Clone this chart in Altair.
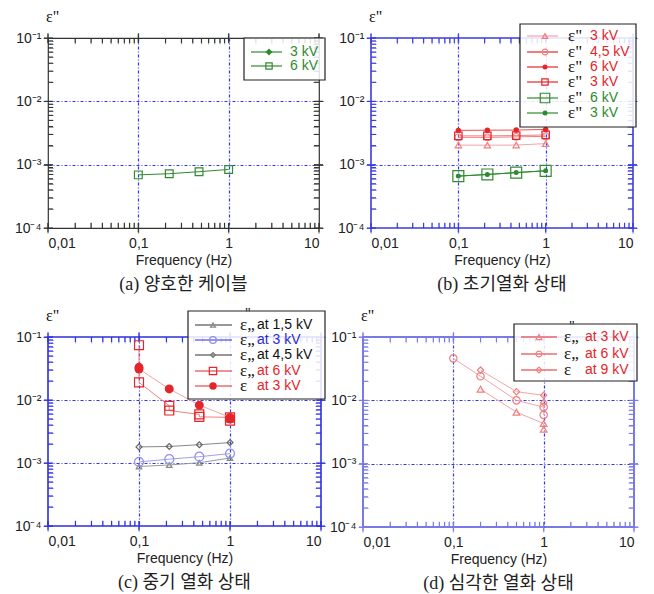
import altair as alt
import pandas as pd

# ---------------- data ----------------
DEC_X = [0.01, 0.1, 1, 10]
DEC_Y = [1e-4, 1e-3, 1e-2, 1e-1]
MIN_X = [0.02, 0.03, 0.04, 0.05, 0.06, 0.07, 0.08, 0.09,
         0.2, 0.3, 0.4, 0.5, 0.6, 0.7, 0.8, 0.9,
         2, 3, 4, 5, 6, 7, 8, 9]
MIN_Y = [2e-4, 3e-4, 4e-4, 5e-4, 6e-4, 7e-4, 8e-4, 9e-4,
         2e-3, 3e-3, 4e-3, 5e-3, 6e-3, 7e-3, 8e-3, 9e-3,
         2e-2, 3e-2, 4e-2, 5e-2, 6e-2, 7e-2, 8e-2, 9e-2]
GRID_X = [0.1, 1]
GRID_Y = [1e-3, 1e-2]

# (a)
A_F = [0.1, 0.22, 0.47, 1.0]
A_6KV = [6.9e-4, 7.2e-4, 7.75e-4, 8.4e-4]

# (b)
B_F = [0.1, 0.215, 0.46, 1.0]
B_TRI_3KV = [2.04e-3, 2.03e-3, 2.04e-3, 2.15e-3]
B_CIR_45KV = [2.7e-3, 2.7e-3, 2.75e-3, 2.8e-3]
B_DOT_6KV = [3.48e-3, 3.5e-3, 3.52e-3, 3.6e-3]
B_SQ_3KV = [2.85e-3, 2.85e-3, 2.88e-3, 2.95e-3]
B_GSQ_6KV = [6.6e-4, 7.0e-4, 7.5e-4, 8.0e-4]
B_GDOT_3KV = [6.6e-4, 7.0e-4, 7.5e-4, 8.0e-4]

# (c)
C_F = [0.1, 0.215, 0.46, 1.0]
C_TRI_15 = [8.8e-4, 9.3e-4, 1.01e-3, 1.2e-3]
C_CIR_3 = [1.04e-3, 1.15e-3, 1.26e-3, 1.41e-3]
C_DIA_45 = [1.8e-3, 1.83e-3, 1.95e-3, 2.11e-3]
C_SQ6_F = [0.1, 0.1, 0.215, 0.215, 0.46, 0.46, 1.0, 1.0]
C_SQ6 = [7.4e-2, 1.9e-2, 8.1e-3, 6.8e-3, 5.9e-3, 5.4e-3, 5.3e-3, 4.7e-3]
C_DOT3_F = [0.1, 0.1, 0.215, 0.46, 1.0, 1.0]
C_DOT3 = [3.3e-2, 3.1e-2, 1.5e-2, 8.3e-3, 5.3e-3, 5.0e-3]

# (d)
D_TRI_F = [0.2, 0.5, 1.0, 1.0]
D_TRI_3 = [1.5e-2, 6.5e-3, 4.3e-3, 3.5e-3]
D_CIR_F = [0.1, 0.2, 0.5, 1.0, 1.0]
D_CIR_6 = [4.6e-2, 2.4e-2, 1.0e-2, 7.8e-3, 5.9e-3]
D_DIA_F = [0.2, 0.5, 1.0, 1.0]
D_DIA_9 = [3.0e-2, 1.37e-2, 1.2e-2, 9.2e-3]

CAPTIONS = ["(a) 양호한 케이블", "(b) 초기열화 상태", "(c) 중기 열화 상태", "(d) 심각한 열화 상태"]

# ---------------- styling ----------------
GREEN = "#2e8b2e"
RED = "#e4252a"
LRED = "#f08080"
PINK = "#f4a4a4"
LABEL_FONT = "Liberation Sans"
EP = "Liberation Serif"
ONE = pd.DataFrame({"k": [0]})
CORNERS = pd.DataFrame({"f": [0.01, 10], "e": [1e-4, 1e-1]})

XS = alt.Scale(type="log", domain=[0.01, 10], nice=False)
YS = alt.Scale(type="log", domain=[1e-4, 1e-1], nice=False)

X_LABEL = ("datum.value < 0.05 ? '0,01' : datum.value < 0.5 ? '0,1' : "
           "datum.value < 5 ? '1' : '10'")
Y_LABEL = ("datum.value < 0.0005 ? '10⁻⁴' : datum.value < 0.005 ? '10⁻³' : "
           "datum.value < 0.05 ? '10⁻²' : '10⁻¹'")


def vx(v):
    return alt.value(v)


def XF():
    return alt.X("f:Q", scale=XS, axis=None)


def YF():
    return alt.Y("e:Q", scale=YS, axis=None)


def axis_layers(gc):
    def mk(xax, yax):
        return alt.Chart(CORNERS).mark_point(opacity=0).encode(
            x=alt.X("f:Q", scale=XS, axis=xax), y=alt.Y("e:Q", scale=YS, axis=yax))
    lab_x = alt.Axis(orient="bottom", values=DEC_X, labelExpr=X_LABEL, ticks=False,
                     labelPadding=8, labelFont=LABEL_FONT, labelFontSize=14,
                     labelColor="#222", grid=False, domain=False, title="Frequency (Hz)",
                     titleFont=LABEL_FONT, titleFontSize=14, titleFontWeight="normal",
                     titleColor="#222", titlePadding=3)
    lab_y = alt.Axis(orient="left", values=DEC_Y, labelExpr=Y_LABEL, ticks=False,
                     labelPadding=7, labelFont=LABEL_FONT, labelFontSize=14,
                     labelColor="#222", grid=False, domain=False, title=None)
    grid_x = alt.Axis(orient="bottom", values=GRID_X, grid=True, gridColor=gc,
                      gridDash=[3, 2, 1, 2], gridWidth=1.2, ticks=False, labels=False,
                      domain=False, title=None)
    grid_y = alt.Axis(orient="left", values=GRID_Y, grid=True, gridColor=gc,
                      gridDash=[3, 2, 1, 2], gridWidth=1.2, ticks=False, labels=False,
                      domain=False, title=None)
    return [mk(grid_x, grid_y), mk(lab_x, lab_y)]


# symbol paths (unit = 2.5 px at size 25)
P_BOT_MIN = "M0,-2L0,0"
P_BOT_MAJ = "M0,-2L0,1.6"
P_TOP_MIN = "M0,0L0,2"
P_TOP_MAJ = "M0,-1.6L0,2"
P_LEF_MIN = "M0,0L2,0"
P_LEF_MAJ = "M-1.6,0L2,0"
P_RIG_MIN = "M-2,0L0,0"
P_RIG_MAJ = "M-2,0L1.6,0"


def tick_layers(tc):
    """Frame ticks drawn from the tick-value lists through the log scales."""
    out = []
    specs = [
        (MIN_X, [1e-4] * len(MIN_X), P_BOT_MIN),
        (DEC_X, [1e-4] * len(DEC_X), P_BOT_MAJ),
        (MIN_X, [1e-1] * len(MIN_X), P_TOP_MIN),
        (DEC_X, [1e-1] * len(DEC_X), P_TOP_MAJ),
        ([0.01] * len(MIN_Y), MIN_Y, P_LEF_MIN),
        ([0.01] * len(DEC_Y), DEC_Y, P_LEF_MAJ),
        ([10] * len(MIN_Y), MIN_Y, P_RIG_MIN),
        ([10] * len(DEC_Y), DEC_Y, P_RIG_MAJ),
    ]
    for fs, es, path in specs:
        df = pd.DataFrame({"f": fs, "e": es})
        out.append(alt.Chart(df).mark_point(shape=path, size=25, filled=False,
                                            color=tc, strokeWidth=1.1, opacity=1).encode(
            x=XF(), y=YF()))
    # the same ticks as short text strokes
    tspecs = [
        (MIN_X, [1e-4] * len(MIN_X), "|", 6, "center", "bottom"),
        (DEC_X, [1e-4] * len(DEC_X), "|", 10, "center", "middle"),
        (MIN_X, [1e-1] * len(MIN_X), "|", 6, "center", "top"),
        (DEC_X, [1e-1] * len(DEC_X), "|", 10, "center", "middle"),
        ([0.01] * len(MIN_Y), MIN_Y, "—", 6, "left", "middle"),
        ([0.01] * len(DEC_Y), DEC_Y, "—", 10, "center", "middle"),
        ([10] * len(MIN_Y), MIN_Y, "—", 6, "right", "middle"),
        ([10] * len(DEC_Y), DEC_Y, "—", 10, "center", "middle"),
    ]
    for fs, es, ch, fsz, al, bl in tspecs:
        df = pd.DataFrame({"f": fs, "e": es})
        out.append(alt.Chart(df).mark_text(text=ch, fontSize=fsz, font="DejaVu Sans",
                                           align=al, baseline=bl, color=tc).encode(
            x=XF(), y=YF()))
    return out


def series(fs, es, shape, filled, size, mcolor, lcolor, sw=1.0):
    df = pd.DataFrame({"f": fs, "e": es, "o": list(range(len(fs)))})
    base = alt.Chart(df).encode(x=XF(), y=YF(), order="o:Q")
    line = base.mark_line(color=lcolor, strokeWidth=sw)
    pts = base.mark_point(shape=shape, filled=filled, size=size, color=mcolor,
                          strokeWidth=1.2, opacity=1)
    return [line, pts]


def legend_box(x1, x2, y1, y2):
    return alt.Chart(ONE).mark_rect(fill="white", fillOpacity=0.85, stroke="#222",
                                    strokeWidth=1.2).encode(
        x=vx(x1), x2=vx(x2), y=vx(y1), y2=vx(y2))


def legend_row(lx1, lx2, mx, y, lcolor, shape, filled, size, mcolor, texts):
    out = [
        alt.Chart(ONE).mark_rule(color=lcolor, strokeWidth=1.2).encode(
            x=vx(lx1), x2=vx(lx2), y=vx(y)),
        alt.Chart(ONE).mark_point(shape=shape, filled=filled, size=size, color=mcolor,
                                  strokeWidth=1.2, opacity=1).encode(x=vx(mx), y=vx(y)),
    ]
    for tx, txt, col, font, fs in texts:
        out.append(alt.Chart(ONE).mark_text(text=txt, align="left", baseline="middle",
                                            fontSize=fs, font=font, color=col).encode(
            x=vx(tx), y=vx(y)))
    return out


def eps_label():
    return alt.Chart(ONE).mark_text(text='ε"', align="left", baseline="middle",
                                    fontSize=16, font=EP,
                                    color="#111").encode(x=vx(-2), y=vx(-21))


def panel(layers, frame, fw, grid, caption, W, H):
    ch = alt.layer(*axis_layers(grid), *tick_layers(frame), *layers,
                   eps_label()).resolve_axis(
        x="independent", y="independent").properties(
        width=W, height=H,
        view=alt.ViewBackground(stroke=frame, strokeWidth=fw),
        title=alt.TitleParams(text=caption, orient="bottom", anchor="middle",
                              font="Liberation Serif, Noto Sans CJK KR", fontSize=18,
                              fontWeight="normal", color="#222", offset=9))
    return ch


# ---------------- panel a ----------------
la = []
la += series(A_F, A_6KV, "square", False, 60, GREEN, GREEN)
la.append(legend_box(196, 277, 0, 42))
la += legend_row(203, 234, 221, 14, GREEN, "diamond", True, 50, GREEN,
                 [(242, "3 kV", GREEN, LABEL_FONT, 14)])
la += legend_row(203, 234, 221, 28, GREEN, "square", False, 40, GREEN,
                 [(242, "6 kV", GREEN, LABEL_FONT, 14)])
pa = panel(la, "#333333", 1.2, "#3333ee", CAPTIONS[0], 271, 190)

# ---------------- panel b ----------------
lb = []
lb += series(B_F, B_TRI_3KV, "triangle-up", False, 40, LRED, PINK)
lb += series(B_F, B_CIR_45KV, "circle", False, 45, LRED, LRED)
lb += series(B_F, B_SQ_3KV, "square", False, 55, RED, LRED)
lb += series(B_F, B_DOT_6KV, "circle", True, 30, RED, "#e85050")
lb += series(B_F, B_GSQ_6KV, "square", False, 120, GREEN, GREEN)
lb += series(B_F, B_GDOT_3KV, "circle", True, 25, GREEN, GREEN)
lb.append(legend_box(149, 265, -14, 89))
rows_b = [
    (-2, PINK, "triangle-up", False, 30, LRED, "3 kV", RED),
    (14, RED, "circle", False, 35, LRED, "4,5 kV", RED),
    (29, RED, "circle", True, 25, RED, "6 kV", RED),
    (44, RED, "square", False, 40, RED, "3 kV", RED),
    (60, GREEN, "square", False, 90, GREEN, "6 kV", GREEN),
    (75, GREEN, "circle", True, 25, GREEN, "3 kV", GREEN),
]
for y, lc, sh, fl, sz, mc, txt, tc in rows_b:
    lb += legend_row(156, 187, 174, y, lc, sh, fl, sz, mc,
                     [(197, 'ε"', "#111", EP, 17), (219, txt, tc, LABEL_FONT, 14)])
pb = panel(lb, "#3b3bdc", 1.6, "#3333ee", CAPTIONS[1], 262, 190)

# ---------------- panel c ----------------
lc_ = []
lc_ += series(C_F, C_TRI_15, "triangle-up", False, 30, "#888888", "#999999")
lc_ += series(C_F, C_CIR_3, "circle", False, 80, "#8f8fe8", "#a0a0e8")
lc_ += series(C_F, C_DIA_45, "diamond", False, 35, "#666666", "#888888")
lc_ += series(C_SQ6_F, C_SQ6, "square", False, 80, RED, LRED)
lc_ += series(C_DOT3_F, C_DOT3, "circle", True, 80, RED, PINK)
lc_.append(legend_box(140, 277, -26, 62))
rows_c = [
    (-12, "#333333", "triangle-up", False, 25, "#888888", "ε„", "at 1,5 kV", "#111"),
    (3, "#2a2ad8", "circle", False, 45, "#8f8fe8", "ε„", "at 3 kV", "#2a2ad8"),
    (18, "#333333", "diamond", False, 25, "#777777", "ε„", "at 4,5 kV", "#111"),
    (34, RED, "square", False, 55, RED, "ε„", "at 6 kV", RED),
    (49, RED, "circle", True, 55, RED, "ε", "at 3 kV", RED),
]
for y, lcol, sh, fl, sz, mc, eps, txt, tc in rows_c:
    lc_ += legend_row(147, 184, 165, y, lcol, sh, fl, sz, mc,
                      [(192, eps, "#111", EP, 17), (209, txt, tc, LABEL_FONT, 14)])
lc_.append(alt.Chart(ONE).mark_text(text='"', align="left", baseline="middle",
                                    fontSize=14, font=EP, color="#111").encode(
    x=vx(197), y=vx(-23)))
pc = panel(lc_, "#2f2fe0", 1.6, "#3333ee", CAPTIONS[2], 273, 189)

# ---------------- panel d ----------------
ld = []
ld += series(D_TRI_F, D_TRI_3, "triangle-up", False, 45, LRED, PINK)
ld += series(D_CIR_F, D_CIR_6, "circle", False, 55, LRED, PINK)
ld += series(D_DIA_F, D_DIA_9, "diamond", False, 40, LRED, PINK)
ld.append(legend_box(151, 274, -13, 44))
rows_d = [
    (0, "triangle-up", "ε„", "at 3 kV"),
    (17, "circle", "ε„", "at 6 kV"),
    (33, "diamond", "ε", "at 9 kV"),
]
for y, sh, eps, txt in rows_d:
    ld += legend_row(158, 194, 176, y, RED, sh, False, 35, LRED,
                     [(201, eps, "#111", EP, 17), (222, txt, RED, LABEL_FONT, 14)])
ld.append(alt.Chart(ONE).mark_text(text='"', align="left", baseline="middle",
                                   fontSize=14, font=EP, color="#111").encode(
    x=vx(206), y=vx(-10)))
pd_ = panel(ld, "#7a7ae6", 2, "#3333ee", CAPTIONS[3], 271, 190)

row1 = alt.hconcat(pa, pb, spacing=9)
row2 = alt.hconcat(pc, pd_, spacing=0)
chart = alt.vconcat(row1, row2, spacing=11).properties(
    padding={"left": 5, "top": 0, "right": 0, "bottom": 0})

chart.save("out.html", embed_options={"renderer": "svg", "actions": False})
